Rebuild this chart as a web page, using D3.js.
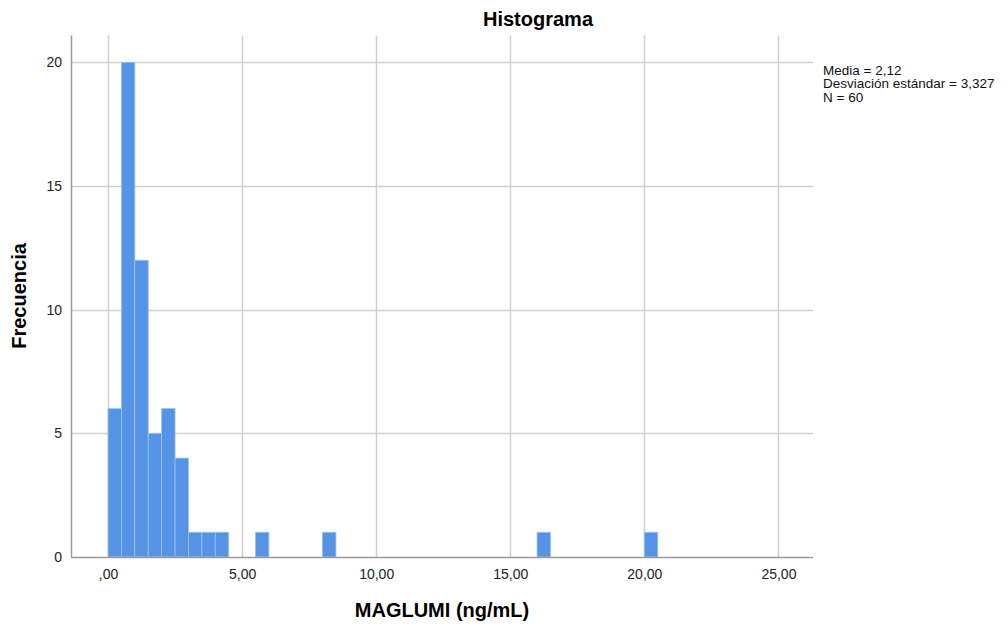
<!DOCTYPE html>
<html>
<head>
<meta charset="utf-8">
<script src="https://cdn.jsdelivr.net/npm/d3@7"></script>
<style>
    body { margin: 0; background: #fff; }
    text { font-family: "Liberation Sans", Arial, sans-serif; }
</style>
</head>
<body>
<script>
// bin edges (ng/mL) and counts
var binStart = [0, 0.5, 1, 1.5, 2, 2.5, 3, 3.5, 4, 5.5, 8, 16, 20];
var binCount = [6, 20, 12, 5, 6, 4, 1, 1, 1, 1, 1, 1, 1];
var binWidth = 0.5;

var xTicks = [0, 5, 10, 15, 20, 25];
var xTickLabels = [",00", "5,00", "10,00", "15,00", "20,00", "25,00"];
var yTicks = [0, 5, 10, 15, 20];
var statsLines = ["Media = 2,12", "Desviación estándar = 3,327", "N = 60"];

function drawChart () {
    var width = 1008, height = 626;
    var left = 71, right = 813, top = 35.5, bottom = 557;

    var svg = d3.select("body").append("svg")
        .attr("width", width)
        .attr("height", height);

    var x = d3.scaleLinear().domain([-1.38, 26.29]).range([left, right]);
    var y = d3.scaleLinear().domain([0, 21.09]).range([bottom, top]);

    // grid lines
    svg.selectAll("xGrid")
        .data(xTicks)
        .enter()
        .append("line")
        .attr("x1", function(d) { return Math.round(x(d)) + 0.5; })
        .attr("x2", function(d) { return Math.round(x(d)) + 0.5; })
        .attr("y1", top)
        .attr("y2", bottom)
        .attr("stroke", "#cfcfcf")
        .attr("stroke-width", 1.5);

    svg.selectAll("yGrid")
        .data(yTicks.slice(1))
        .enter()
        .append("line")
        .attr("x1", left)
        .attr("x2", right)
        .attr("y1", function(d) { return Math.round(y(d)) + 0.5; })
        .attr("y2", function(d) { return Math.round(y(d)) + 0.5; })
        .attr("stroke", "#cfcfcf")
        .attr("stroke-width", 1.5);

    // bars
    svg.selectAll("bar")
        .data(binStart)
        .enter()
        .append("rect")
        .attr("x", function(d) { return x(d); })
        .attr("width", function(d) { return x(d + binWidth) - x(d); })
        .attr("y", function(d, i) { return y(binCount[i]); })
        .attr("height", function(d, i) { return bottom - y(binCount[i]); })
        .attr("fill", "#5594e4")
        .attr("stroke", "#9cc0f0")
        .attr("stroke-width", 0.8);

    // axes
    var xAxis = d3.axisBottom(x)
        .tickValues(xTicks)
        .tickFormat(function(d, i) { return xTickLabels[i]; })
        .tickSize(0)
        .tickPadding(12);
    var gx = svg.append("g")
        .attr("transform", "translate(0," + bottom + ")")
        .call(xAxis);
    gx.select(".domain").remove();

    var yAxis = d3.axisLeft(y)
        .tickValues(yTicks)
        .tickSize(0)
        .tickPadding(9);
    var gy = svg.append("g")
        .attr("transform", "translate(" + left + ",0)")
        .call(yAxis);
    gy.select(".domain").remove();

    svg.selectAll(".tick text")
        .attr("font-size", "14px")
        .attr("fill", "#222")
        .style("font-family", "'Liberation Sans', Arial, sans-serif");

    svg.append("line")
        .attr("x1", left).attr("x2", right)
        .attr("y1", bottom + 0.5).attr("y2", bottom + 0.5)
        .attr("stroke", "#9a9a9a").attr("stroke-width", 1.5);
    svg.append("line")
        .attr("x1", left + 0.5).attr("x2", left + 0.5)
        .attr("y1", top).attr("y2", bottom)
        .attr("stroke", "#9a9a9a").attr("stroke-width", 1.5);

    // titles
    svg.append("text")
        .attr("x", 538).attr("y", 26)
        .attr("text-anchor", "middle")
        .attr("font-size", "20px")
        .attr("font-weight", "bold")
        .text("Histograma");

    svg.append("text")
        .attr("x", 442).attr("y", 617)
        .attr("text-anchor", "middle")
        .attr("font-size", "20px")
        .attr("font-weight", "bold")
        .text("MAGLUMI (ng/mL)");

    svg.append("text")
        .attr("transform", "translate(26,296) rotate(-90)")
        .attr("text-anchor", "middle")
        .attr("font-size", "20px")
        .attr("font-weight", "bold")
        .text("Frecuencia");

    // stats box
    svg.selectAll("statText")
        .data(statsLines)
        .enter()
        .append("text")
        .attr("x", 823)
        .attr("y", function(d, i) { return 74.5 + i * 13.5; })
        .attr("font-size", "13.5px")
        .attr("fill", "#111")
        .text(function(d) { return d; });
}

drawChart();
</script>
</body>
</html>
